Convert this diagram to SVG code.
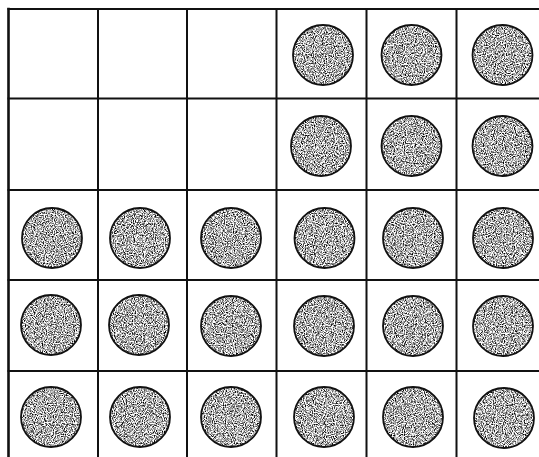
<svg xmlns="http://www.w3.org/2000/svg" width="539" height="457" viewBox="0 0 539 457">
<defs>
<style>
.grid line{stroke:#111;stroke-width:2;stroke-linecap:square}
.tex{fill:#888}
.rim{fill:none;stroke:#111;stroke-width:1.8}
</style>
<filter id="speck" x="0" y="0" width="1" height="1" color-interpolation-filters="sRGB">
<feTurbulence type="fractalNoise" baseFrequency="0.9" numOctaves="2" seed="3" result="n"/>
<feColorMatrix in="n" type="matrix" values="2.6 0 0 0 -0.62  2.6 0 0 0 -0.62  2.6 0 0 0 -0.62  0 0 0 0 1" result="g"/>
<feComposite in="g" in2="SourceGraphic" operator="in"/>
</filter>
</defs>
<rect width="539" height="457" fill="#fff"/>
<g id="grid" class="grid">
<line x1="8.5" y1="9" x2="539" y2="9"/>
<line x1="8.5" y1="98.5" x2="539" y2="98.5"/>
<line x1="8.5" y1="190" x2="539" y2="190"/>
<line x1="8.5" y1="280" x2="539" y2="280"/>
<line x1="8.5" y1="371" x2="539" y2="371"/>
<line x1="8.5" y1="9" x2="8.5" y2="457" style="stroke-width:2.6"/>
<line x1="98" y1="9" x2="98" y2="457"/>
<line x1="187" y1="9" x2="187" y2="457"/>
<line x1="276.5" y1="9" x2="276.5" y2="457"/>
<line x1="366.5" y1="9" x2="366.5" y2="457"/>
<line x1="456.5" y1="9" x2="456.5" y2="457"/>
</g>
<g id="r0c3"><circle class="tex" filter="url(#speck)" cx="323" cy="55" r="30"/><circle class="rim" cx="323" cy="55" r="30"/></g>
<g id="r0c4"><circle class="tex" filter="url(#speck)" cx="411.5" cy="55" r="30"/><circle class="rim" cx="411.5" cy="55" r="30"/></g>
<g id="r0c5"><circle class="tex" filter="url(#speck)" cx="502.5" cy="55" r="30"/><circle class="rim" cx="502.5" cy="55" r="30"/></g>
<g id="r1c3"><circle class="tex" filter="url(#speck)" cx="321" cy="146" r="30"/><circle class="rim" cx="321" cy="146" r="30"/></g>
<g id="r1c4"><circle class="tex" filter="url(#speck)" cx="411.5" cy="146" r="30"/><circle class="rim" cx="411.5" cy="146" r="30"/></g>
<g id="r1c5"><circle class="tex" filter="url(#speck)" cx="502.5" cy="146" r="30"/><circle class="rim" cx="502.5" cy="146" r="30"/></g>
<g id="r2c0"><circle class="tex" filter="url(#speck)" cx="52" cy="238" r="30"/><circle class="rim" cx="52" cy="238" r="30"/></g>
<g id="r2c1"><circle class="tex" filter="url(#speck)" cx="140" cy="238" r="30"/><circle class="rim" cx="140" cy="238" r="30"/></g>
<g id="r2c2"><circle class="tex" filter="url(#speck)" cx="231" cy="238" r="30"/><circle class="rim" cx="231" cy="238" r="30"/></g>
<g id="r2c3"><circle class="tex" filter="url(#speck)" cx="324.5" cy="238" r="30"/><circle class="rim" cx="324.5" cy="238" r="30"/></g>
<g id="r2c4"><circle class="tex" filter="url(#speck)" cx="413" cy="238" r="30"/><circle class="rim" cx="413" cy="238" r="30"/></g>
<g id="r2c5"><circle class="tex" filter="url(#speck)" cx="503" cy="238" r="30"/><circle class="rim" cx="503" cy="238" r="30"/></g>
<g id="r3c0"><circle class="tex" filter="url(#speck)" cx="51" cy="325" r="30"/><circle class="rim" cx="51" cy="325" r="30"/></g>
<g id="r3c1"><circle class="tex" filter="url(#speck)" cx="139" cy="325" r="30"/><circle class="rim" cx="139" cy="325" r="30"/></g>
<g id="r3c2"><circle class="tex" filter="url(#speck)" cx="231" cy="326" r="30"/><circle class="rim" cx="231" cy="326" r="30"/></g>
<g id="r3c3"><circle class="tex" filter="url(#speck)" cx="324" cy="326" r="30"/><circle class="rim" cx="324" cy="326" r="30"/></g>
<g id="r3c4"><circle class="tex" filter="url(#speck)" cx="413" cy="326" r="30"/><circle class="rim" cx="413" cy="326" r="30"/></g>
<g id="r3c5"><circle class="tex" filter="url(#speck)" cx="503" cy="326" r="30"/><circle class="rim" cx="503" cy="326" r="30"/></g>
<g id="r4c0"><circle class="tex" filter="url(#speck)" cx="51" cy="417" r="30"/><circle class="rim" cx="51" cy="417" r="30"/></g>
<g id="r4c1"><circle class="tex" filter="url(#speck)" cx="140" cy="417" r="30"/><circle class="rim" cx="140" cy="417" r="30"/></g>
<g id="r4c2"><circle class="tex" filter="url(#speck)" cx="231" cy="417" r="30"/><circle class="rim" cx="231" cy="417" r="30"/></g>
<g id="r4c3"><circle class="tex" filter="url(#speck)" cx="324" cy="417" r="30"/><circle class="rim" cx="324" cy="417" r="30"/></g>
<g id="r4c4"><circle class="tex" filter="url(#speck)" cx="413" cy="417" r="30"/><circle class="rim" cx="413" cy="417" r="30"/></g>
<g id="r4c5"><circle class="tex" filter="url(#speck)" cx="504" cy="418" r="30"/><circle class="rim" cx="504" cy="418" r="30"/></g>
</svg>
